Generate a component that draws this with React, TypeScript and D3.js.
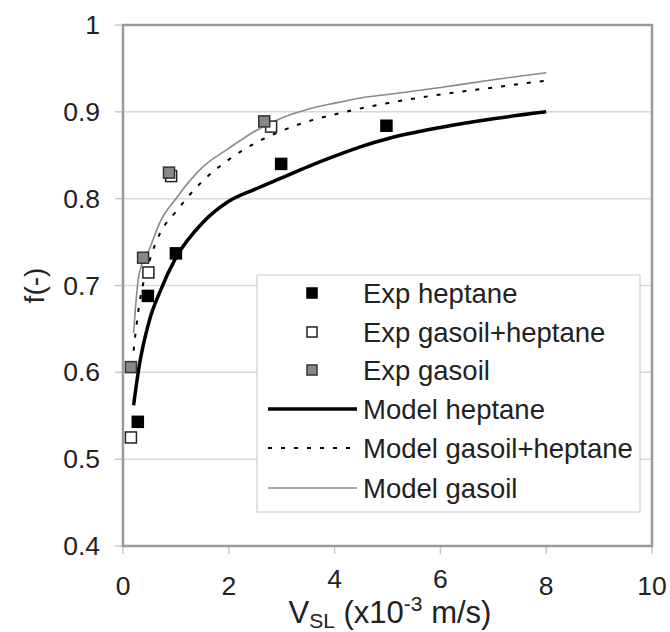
import React from "react";
import * as d3 from "d3";

const W = 670;
const H = 632;
const margin = { left: 123, top: 25, right: 18, bottom: 86 };

const xTicks = [0, 2, 4, 6, 8, 10];
const yTicks = [0.4, 0.5, 0.6, 0.7, 0.8, 0.9, 1];
const yTickLabels = ["0.4", "0.5", "0.6", "0.7", "0.8", "0.9", "1"];

// Experimental points
const expHeptaneX = [0.28, 0.47, 1.0, 2.99, 4.98];
const expHeptaneY = [0.543, 0.688, 0.737, 0.840, 0.884];
const expMixX = [0.15, 0.48, 0.91, 2.8];
const expMixY = [0.525, 0.715, 0.826, 0.883];
const expGasoilX = [0.15, 0.38, 0.87, 2.67];
const expGasoilY = [0.606, 0.732, 0.830, 0.889];

// Model curves
const modelX = [0.2, 0.3, 0.5, 0.7, 1.0, 1.5, 2.0, 2.5, 3.0, 3.5, 4.0, 4.5, 5.0, 6.0, 7.0, 8.0];
const modelHeptane = [0.562, 0.605, 0.66, 0.693, 0.732, 0.772, 0.797, 0.811, 0.824, 0.837, 0.849, 0.860, 0.869, 0.882, 0.892, 0.900];
const modelMix = [0.625, 0.675, 0.728, 0.76, 0.785, 0.82, 0.845, 0.864, 0.878, 0.889, 0.897, 0.904, 0.91, 0.92, 0.928, 0.936];
const modelGasoil = [0.645, 0.712, 0.742, 0.773, 0.800, 0.836, 0.858, 0.878, 0.893, 0.903, 0.910, 0.916, 0.920, 0.928, 0.937, 0.945];

const legendLabels = [
  "Exp heptane",
  "Exp gasoil+heptane",
  "Exp gasoil",
  "Model heptane",
  "Model gasoil+heptane",
  "Model gasoil",
];

const FONT = "'Liberation Sans', Arial, sans-serif";

export default function App() {
  const x = d3.scaleLinear().domain([0, 10]).range([margin.left, W - margin.right]);
  const y = d3.scaleLinear().domain([0.4, 1]).range([H - margin.bottom, margin.top]);
  const line = d3
    .line<[number, number]>()
    .x((d) => x(d[0]))
    .y((d) => y(d[1]))
    .curve(d3.curveMonotoneX);

  const pts = (xs: number[], ys: number[]) => xs.map((v, i) => [v, ys[i]] as [number, number]);

  const sq = 11;
  const markerStyles = [
    { fill: "#000", stroke: "#000" },
    { fill: "#fff", stroke: "#222" },
    { fill: "#888", stroke: "#333" },
  ];
  const expSeries = [
    pts(expHeptaneX, expHeptaneY),
    pts(expMixX, expMixY),
    pts(expGasoilX, expGasoilY),
  ];
  const lineStyles = [
    { stroke: "#000", width: 3.5, dash: undefined as string | undefined },
    { stroke: "#000", width: 2, dash: "4,9" },
    { stroke: "#8a8a8a", width: 1.6, dash: undefined },
  ];
  const modelSeries = [modelHeptane, modelMix, modelGasoil];

  const x0 = margin.left;
  const x1 = W - margin.right;
  const yb = H - margin.bottom;
  const yt = margin.top;

  const lg = { x: 257, y: 275, w: 383, h: 237 };
  const rowY = [293, 332, 370, 409, 448, 488];

  return (
    <svg
      width={W}
      height={H}
      style={{ position: "absolute", left: 0, top: 0, background: "#fff" }}
      fontFamily={FONT}
    >
      <rect x={0} y={0} width={W} height={H} fill="#fff" />
      {/* gridlines */}
      {yTicks.slice(1, -1).map((t) => (
        <line key={"g" + t} x1={x0} x2={x1} y1={y(t)} y2={y(t)} stroke="#d9d9d9" strokeWidth={1.5} />
      ))}
      {/* y ticks */}
      {yTicks.map((t, i) => (
        <g key={"yt" + t}>
          <line x1={x0 - 8} x2={x0} y1={y(t)} y2={y(t)} stroke="#c8c8c8" strokeWidth={1.5} />
          <text x={100} y={y(t)} textAnchor="end" dominantBaseline="central" fontSize={26.5} fill="#222">
            {yTickLabels[i]}
          </text>
        </g>
      ))}
      {/* x ticks */}
      {xTicks.map((t) => (
        <g key={"xt" + t}>
          <line x1={x(t)} x2={x(t)} y1={yb} y2={yb + 8} stroke="#c8c8c8" strokeWidth={1.5} />
          <text
            x={x(t)}
            y={t === 4 || t === 6 ? 579 : 586}
            textAnchor="middle"
            dominantBaseline="central"
            fontSize={26.5}
            fill="#222"
          >
            {t}
          </text>
        </g>
      ))}
      {/* frame */}
      <rect x={x0} y={yt} width={x1 - x0} height={yb - yt} fill="none" stroke="#9a9a9a" strokeWidth={2.5} />

      {/* model curves */}
      {modelSeries.map((s, i) => (
        <path
          key={"m" + i}
          d={line(pts(modelX, s)) || ""}
          fill="none"
          stroke={lineStyles[i].stroke}
          strokeWidth={lineStyles[i].width}
          strokeDasharray={lineStyles[i].dash}
        />
      ))}

      {/* experimental points */}
      {[1, 2, 0].map((si) =>
        expSeries[si].map((p, j) => (
          <rect
            key={"e" + si + "_" + j}
            x={x(p[0]) - sq / 2}
            y={y(p[1]) - sq / 2}
            width={sq}
            height={sq}
            fill={markerStyles[si].fill}
            stroke={markerStyles[si].stroke}
            strokeWidth={1.5}
          />
        ))
      )}

      {/* legend */}
      <rect x={lg.x} y={lg.y} width={lg.w} height={lg.h} fill="#fff" stroke="#cfcfcf" strokeWidth={1.2} />
      {legendLabels.map((lab, i) => (
        <g key={"l" + i}>
          {i < 3 ? (
            <rect
              x={312 - 5}
              y={rowY[i] - 5}
              width={10}
              height={10}
              fill={markerStyles[i].fill}
              stroke={markerStyles[i].stroke}
              strokeWidth={1.5}
            />
          ) : (
            <line
              x1={268}
              x2={357}
              y1={rowY[i]}
              y2={rowY[i]}
              stroke={lineStyles[i - 3].stroke}
              strokeWidth={lineStyles[i - 3].width}
              strokeDasharray={lineStyles[i - 3].dash}
            />
          )}
          <text x={363} y={rowY[i]} dominantBaseline="central" fontSize={27.5} fill="#222">
            {lab}
          </text>
        </g>
      ))}

      {/* axis titles */}
      <text
        transform={`translate(34, ${y(0.7)}) rotate(-90)`}
        textAnchor="middle"
        dominantBaseline="central"
        fontSize={28}
        fill="#222"
      >
        f(-)
      </text>
      <text x={390} y={623} textAnchor="middle" fontSize={31} fill="#222">
        <tspan>V</tspan>
        <tspan fontSize={21} dy={5}>SL</tspan>
        <tspan dy={-5}> (x10</tspan>
        <tspan fontSize={21} dy={-12}>-3</tspan>
        <tspan dy={12}> m/s)</tspan>
      </text>
    </svg>
  );
}
